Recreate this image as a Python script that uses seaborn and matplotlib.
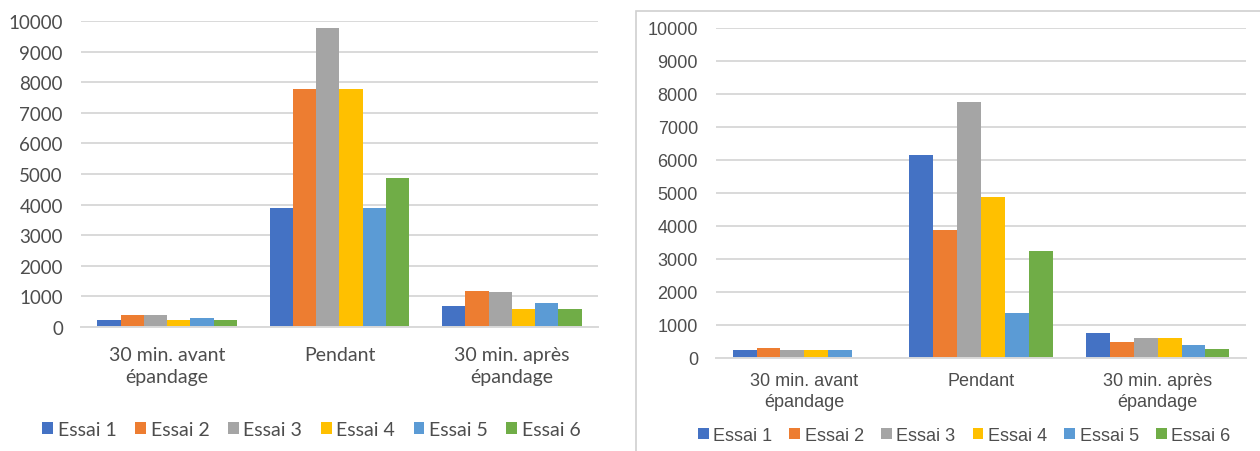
import matplotlib
matplotlib.use("Agg")
import matplotlib.pyplot as plt
from matplotlib.patches import Patch, Rectangle
import pandas as pd
import seaborn as sns

categories = ["30 min. avant\népandage", "Pendant", "30 min. après\népandage"]
essais = ["Essai 1", "Essai 2", "Essai 3", "Essai 4", "Essai 5", "Essai 6"]
colors = ["#4472C4", "#ED7D31", "#A5A5A5", "#FFC000", "#5B9BD5", "#70AD47"]

# Series values per essai, one value per category (left panel)
left_essai1 = [220, 3890, 680]
left_essai2 = [380, 7790, 1190]
left_essai3 = [380, 9780, 1140]
left_essai4 = [220, 7790, 600]
left_essai5 = [310, 3890, 770]
left_essai6 = [220, 4870, 600]

# Series values per essai, one value per category (right panel)
right_essai1 = [240, 6150, 760]
right_essai2 = [300, 3890, 470]
right_essai3 = [240, 7750, 600]
right_essai4 = [240, 4890, 600]
right_essai5 = [240, 1350, 400]
right_essai6 = [0, 3250, 280]

yticks = [0, 1000, 2000, 3000, 4000, 5000, 6000, 7000, 8000, 9000, 10000]


def to_frame(series):
    rows = []
    for name, vals in zip(essais, series):
        for cat, v in zip(categories, vals):
            rows.append({"cat": cat, "essai": name, "val": v})
    return pd.DataFrame(rows)


left_df = to_frame([left_essai1, left_essai2, left_essai3,
                    left_essai4, left_essai5, left_essai6])
right_df = to_frame([right_essai1, right_essai2, right_essai3,
                     right_essai4, right_essai5, right_essai6])

sns.set_theme(style="white")
W, H = 1260, 452
fig = plt.figure(figsize=(W / 100, H / 100), dpi=100)
TEXT = "#4d4d4d"


def panel(df, rect, family, tick_size, cat_size, leg_size, label_pad,
          linesp, legend_xy, colspace, handle):
    ax = fig.add_axes(rect)
    sns.barplot(data=df, x="cat", y="val", hue="essai", order=categories,
                hue_order=essais, palette=colors, saturation=1, width=0.81,
                gap=0, ax=ax, legend=False, linewidth=0)
    ax.set_ylim(0, 10000)
    ax.set_xlim(-0.5, 2.5)
    ax.set_yticks(yticks)
    ax.set_yticklabels([str(t) for t in yticks], family=family,
                       fontsize=tick_size, color=TEXT)
    ax.set_xticks(range(len(categories)))
    ax.set_xticklabels(categories, family=family, fontsize=cat_size,
                       color=TEXT, linespacing=linesp)
    ax.tick_params(axis="both", length=0)
    ax.tick_params(axis="x", pad=label_pad)
    ax.tick_params(axis="y", pad=13)
    ax.yaxis.grid(True, color="#D9D9D9", linewidth=1.4)
    ax.set_axisbelow(True)
    for s in ["top", "right", "left"]:
        ax.spines[s].set_visible(False)
    ax.spines["bottom"].set_color("#D9D9D9")
    ax.spines["bottom"].set_linewidth(1.4)
    ax.set_xlabel("")
    ax.set_ylabel("")
    handles = [Patch(facecolor=c, edgecolor="none") for c in colors]
    leg = ax.legend(handles, essais, ncol=6, loc="center",
                    bbox_to_anchor=legend_xy, frameon=False,
                    prop={"family": family, "size": leg_size},
                    handlelength=handle, handleheight=handle,
                    handletextpad=0.25, columnspacing=colspace,
                    borderaxespad=0)
    for t in leg.get_texts():
        t.set_color(TEXT)
    return ax


# left panel (no frame)
panel(left_df, [81 / W, 1 - 328 / H, 517 / W, 306 / H],
      "Lato", 13.5, 14, 14, 14, 1.3, (0.446, -0.335), 0.95, 0.55)

# right panel, framed on the top and left
fig.add_artist(Rectangle((636 / W, -0.05), 1.0, 1 - 12 / H + 0.05,
                         transform=fig.transFigure, fill=False,
                         edgecolor="#D0D0D0", linewidth=1.2))
panel(right_df, [716 / W, 1 - 359 / H, 530 / W, 330 / H],
      "Liberation Sans", 13, 13, 13, 10, 1.3, (0.468, -0.235), 0.95, 0.6)

fig.savefig("out.png", dpi=100, facecolor="white")
